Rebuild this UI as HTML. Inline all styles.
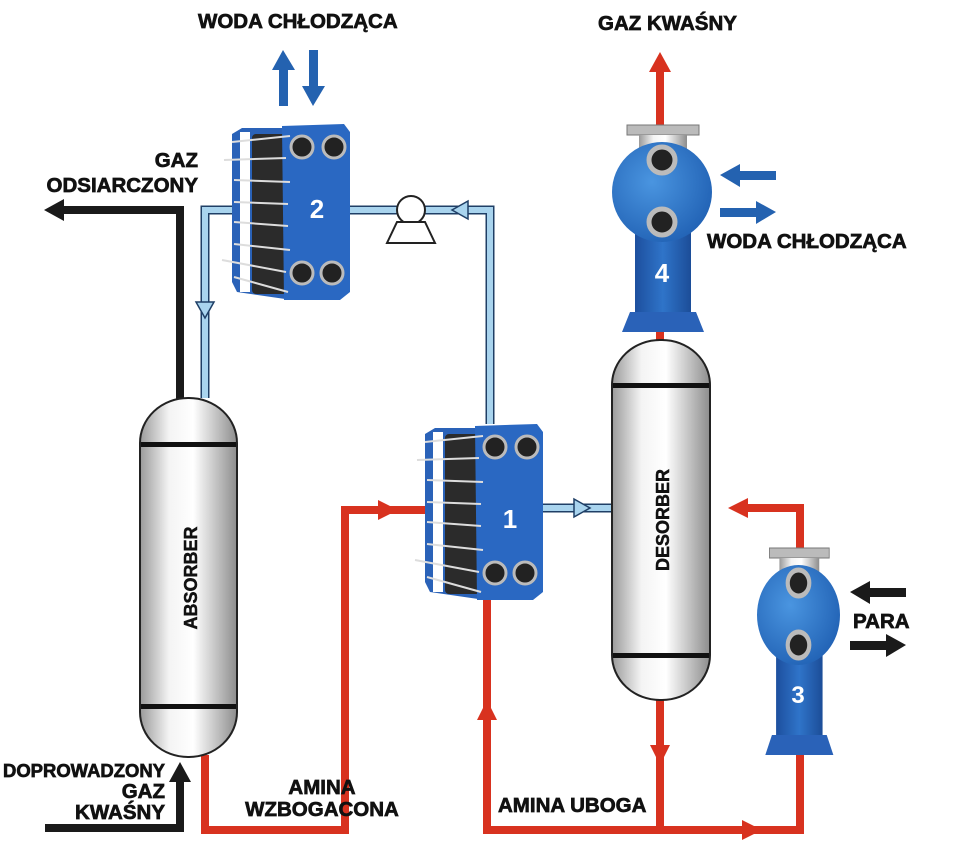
<!DOCTYPE html>
<html><head><meta charset="utf-8"><style>
html,body{margin:0;padding:0;background:#fff;}
svg{display:block;}
text{font-family:"Liberation Sans",sans-serif;font-weight:bold;}
</style></head><body>
<svg width="960" height="842" viewBox="0 0 960 842" xmlns="http://www.w3.org/2000/svg">
<defs>
<linearGradient id="silver" x1="0" x2="1" y1="0" y2="0">
<stop offset="0" stop-color="#9a9a9a"/><stop offset="0.3" stop-color="#f4f4f4"/><stop offset="0.55" stop-color="#ffffff"/><stop offset="1" stop-color="#8d8d8d"/>
</linearGradient>
<linearGradient id="blue" x1="0" x2="1" y1="0" y2="0">
<stop offset="0" stop-color="#1d4f9e"/><stop offset="0.5" stop-color="#2f74c9"/><stop offset="1" stop-color="#1c4d98"/>
</linearGradient>
<radialGradient id="sph" cx="0.4" cy="0.4" r="0.7">
<stop offset="0" stop-color="#4a95e0"/><stop offset="1" stop-color="#1f5fb2"/>
</radialGradient>
<g id="plate">
<path d="M0,12 L10,6 L60,6 L60,178 L5,170 L0,160 Z" fill="#2a62b8"/>
<rect x="8" y="10" width="10" height="160" fill="#fff"/>
<rect x="20" y="12" width="36" height="160" rx="4" fill="#2b2b2b"/>
<path d="M50,4 L112,2 L118,10 L118,170 L108,178 L52,178 Z" fill="#2a68c2"/>
<circle cx="70" cy="25" r="11" fill="#222" stroke="#bbb" stroke-width="3"/>
<circle cx="102" cy="25" r="11" fill="#222" stroke="#bbb" stroke-width="3"/>
<circle cx="70" cy="151" r="11" fill="#222" stroke="#bbb" stroke-width="3"/>
<circle cx="100" cy="151" r="11" fill="#222" stroke="#bbb" stroke-width="3"/>
<g stroke="#ddd" stroke-width="2">
<line x1="0" y1="20" x2="58" y2="14"/><line x1="-8" y1="38" x2="54" y2="36"/>
<line x1="2" y1="58" x2="58" y2="60"/><line x1="2" y1="80" x2="56" y2="82"/>
<line x1="2" y1="100" x2="56" y2="104"/><line x1="2" y1="122" x2="58" y2="128"/>
<line x1="-10" y1="138" x2="54" y2="150"/><line x1="2" y1="155" x2="56" y2="170"/>
</g>
</g>
<g id="shell">
<rect x="15" y="3" width="72" height="10" fill="#bbb" stroke="#777"/>
<rect x="27" y="13" width="48" height="30" fill="url(#silver)"/>
<rect x="23" y="70" width="56" height="132" fill="url(#blue)"/>
<circle cx="50" cy="70" r="50" fill="url(#sph)"/>
<path d="M18,190 L84,190 L92,210 L10,210 Z" fill="#2a62b8"/>
<circle cx="50" cy="38" r="13" fill="#222" stroke="#bbb" stroke-width="5"/>
<circle cx="50" cy="100" r="13" fill="#222" stroke="#bbb" stroke-width="5"/>
</g>
</defs>

<g fill="none" stroke="#1f3f66" stroke-width="9">
<polyline points="205,398 205,210 240,210"/>
<polyline points="345,210 490,210 490,424"/>
<line x1="538" y1="508" x2="612" y2="508"/>
</g>
<g fill="none" stroke="#a9d4ee" stroke-width="6">
<polyline points="205,398 205,210 240,210"/>
<polyline points="345,210 490,210 490,424"/>
<line x1="538" y1="508" x2="612" y2="508"/>
</g>
<polygon points="196,302 214,302 205,318" fill="#a9d4ee" stroke="#1f3f66" stroke-width="1.5"/>
<polygon points="468,201 468,219 452,210" fill="#a9d4ee" stroke="#1f3f66" stroke-width="1.5"/>
<polygon points="574,499 574,517 590,508" fill="#a9d4ee" stroke="#1f3f66" stroke-width="1.5"/>
<circle cx="411" cy="210" r="14" fill="#fff" stroke="#222" stroke-width="2"/>
<polygon points="397,222 425,222 435,243 387,243" fill="#fff" stroke="#222" stroke-width="2"/>

<g fill="none" stroke="#d8321f" stroke-width="8">
<polyline points="205,755 205,830 345,830 345,510 430,510"/>
<polyline points="487,598 487,830 800,830 800,552"/>
<line x1="660" y1="700" x2="660" y2="830"/>
<polyline points="800,552 800,508 740,508"/>
<line x1="660" y1="125" x2="660" y2="62"/>
<line x1="660" y1="325" x2="660" y2="345"/>
</g>
<polygon points="378,500 378,520 398,510" fill="#d8321f"/>
<polygon points="477,720 497,720 487,700" fill="#d8321f"/>
<polygon points="650,745 670,745 660,765" fill="#d8321f"/>
<polygon points="742,820 742,840 762,830" fill="#d8321f"/>
<polygon points="748,498 748,518 728,508" fill="#d8321f"/>
<polygon points="649,72 671,72 660,52" fill="#d8321f"/>

<g fill="none" stroke="#1a1a1a" stroke-width="8">
<polyline points="180,400 180,210 60,210"/>
<polyline points="45,828 180,828 180,780"/>
</g>
<polygon points="64,199 64,221 44,210" fill="#1a1a1a"/>
<polygon points="169,782 191,782 180,762" fill="#1a1a1a"/>

<rect x="140" y="398" width="97" height="359" rx="48" ry="45" fill="url(#silver)" stroke="#222" stroke-width="2"/>
<rect x="141" y="442" width="95" height="5" fill="#111"/>
<rect x="141" y="704" width="95" height="5" fill="#111"/>
<text transform="translate(197,578) rotate(-90)" text-anchor="middle" font-size="18" fill="#111" stroke="#111" stroke-width="0.5">ABSORBER</text>
<rect x="612" y="340" width="98" height="360" rx="48" ry="45" fill="url(#silver)" stroke="#222" stroke-width="2"/>
<rect x="613" y="383" width="96" height="5" fill="#111"/>
<rect x="613" y="653" width="96" height="5" fill="#111"/>
<text transform="translate(669,520) rotate(-90)" text-anchor="middle" font-size="18" fill="#111" stroke="#111" stroke-width="0.5">DESORBER</text>

<use href="#plate" transform="translate(425,422)"/>
<text x="510" y="528" font-size="26" fill="#fff" font-weight="normal" text-anchor="middle">1</text>
<use href="#plate" transform="translate(232,122)"/>
<text x="317" y="218" font-size="26" fill="#fff" font-weight="normal" text-anchor="middle">2</text>
<use href="#shell" transform="translate(612,122)"/>
<text x="662" y="282" font-size="26" fill="#fff" font-weight="normal" text-anchor="middle">4</text>
<use href="#shell" transform="translate(757,545) scale(0.83,1)"/>
<text x="798" y="703" font-size="24" fill="#fff" font-weight="normal" text-anchor="middle">3</text>

<g fill="#2462b0">
<rect x="279" y="68" width="9" height="38"/><polygon points="272,70 295,70 283,50"/>
<rect x="309" y="50" width="9" height="38"/><polygon points="302,86 325,86 313,106"/>
<rect x="738" y="171" width="38" height="9"/><polygon points="740,164 740,187 720,175"/>
<rect x="720" y="208" width="38" height="9"/><polygon points="756,201 756,224 776,212"/>
</g>
<g fill="#1a1a1a">
<rect x="868" y="588" width="38" height="9"/><polygon points="870,581 870,604 850,592"/>
<rect x="850" y="641" width="38" height="9"/><polygon points="886,634 886,657 906,645"/>
</g>

<g font-size="20.5" fill="#111" stroke="#111" stroke-width="0.7">
<text x="198" y="28">WODA CHŁODZĄCA</text>
<text x="598" y="30">GAZ KWAŚNY</text>
<text x="198" y="167" text-anchor="end">GAZ</text>
<text x="198" y="192" text-anchor="end">ODSIARCZONY</text>
<text x="707" y="248">WODA CHŁODZĄCA</text>
<text x="853" y="628">PARA</text>
<text x="3" y="777" textLength="162" lengthAdjust="spacingAndGlyphs" font-size="18">DOPROWADZONY</text>
<text x="165" y="798" text-anchor="end">GAZ</text>
<text x="165" y="819" text-anchor="end">KWAŚNY</text>
<text x="322" y="794" text-anchor="middle">AMINA</text>
<text x="322" y="816" text-anchor="middle">WZBOGACONA</text>
<text x="498" y="812">AMINA UBOGA</text>
</g>
</svg>
</body></html>
